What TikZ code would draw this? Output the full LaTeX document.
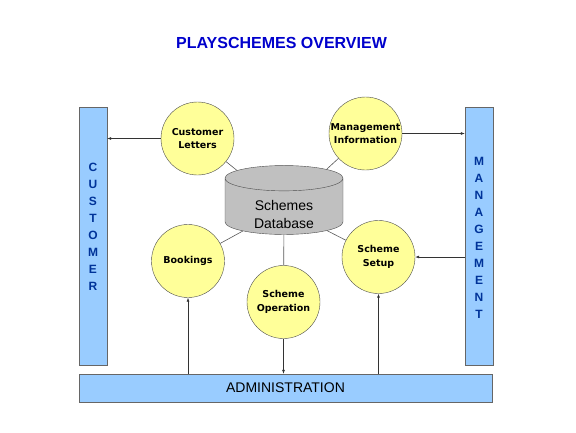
\documentclass[tikz,border=0pt]{standalone}
\usepackage{fontspec}
\setmainfont{Liberation Sans}
\newfontfamily\circfont{DejaVu Sans}
\usetikzlibrary{arrows.meta,positioning,shapes.geometric}
\definecolor{barblue}{RGB}{153,204,255}
\definecolor{bubble}{RGB}{255,255,153}
\definecolor{dbgrey}{RGB}{192,192,192}
\definecolor{titleblue}{RGB}{0,0,204}
\definecolor{letterblue}{RGB}{0,51,153}

\begin{document}
\begin{tikzpicture}[
  x=1pt, y=-1pt,
  bar/.style={draw=black!60, fill=barblue, inner sep=0pt},
  vbar/.style={bar, minimum width=28pt, minimum height=258pt},
  vtext/.style={align=center, inner sep=0pt, font=\bfseries\fontsize{12}{17}\selectfont, text=letterblue},
  proc/.style={circle, draw=black!70, fill=bubble, minimum size=73pt, inner sep=0pt, align=center, font=\circfont\bfseries\fontsize{9.5}{13.5}\selectfont},
  storetext/.style={align=center, inner sep=0pt, font=\fontsize{14}{18}\selectfont},
  store/.style={storetext, inner sep=.3333em, cylinder, shape border rotate=90, aspect=0.38, draw=black!70, fill=dbgrey, minimum width=118pt, minimum height=68pt},
  link/.style={draw=black!65, line width=0.6pt},
  arr/.style={draw=black!80, line width=0.6pt, -{Latex[length=4pt, width=3pt]}}
]
\useasboundingbox (0,0) rectangle (576,432);
\node[font=\bfseries\fontsize{16}{19}\selectfont, text=titleblue] (title) at (281.5,43) {PLAYSCHEMES OVERVIEW};
\node[vbar] (cust) at (93,236) {};
\node[vtext] (custtext) at ([yshift=9pt]cust.center) {C\\U\\S\\T\\O\\M\\E\\R};
\node[vbar] (mgmt) at (479,236) {};
\node[vtext] (mgmttext) at ([yshift=-2pt]mgmt.center) {M\\A\\N\\A\\G\\E\\M\\E\\N\\T};
\node[bar, minimum width=413pt, minimum height=28pt, font=\fontsize{14}{16}\selectfont] (admin) at (285.5,388) {ADMINISTRATION};
\node[store, anchor=shape center] (db) at (284,200) {\phantom{Schemes}\\\phantom{Database}};
\node[storetext] (dbtext) at (284,214) {Schemes\\Database};
\node[proc] (letters) at (197.5,138.5) {Customer\\Letters};
\node[proc] (mis) at (365.5,133.5) {Management\\Information};
\node[proc] (book) at (188,261) {Bookings};
\node[proc] (oper) at (283.5,302) {Scheme\\Operation};
\node[proc] (setup) at (378.5,257) {Scheme\\Setup};
\foreach \p in {letters,mis,book,setup} {\draw[link] (\p) -- (db);}
\draw[link] (db) -- (oper);
\draw[arr] (letters) -- (letters -| cust.east);
\draw[arr] (mis) -- (mis -| mgmt.west);
\draw[arr] (mgmt.west |- setup) -- (setup);
\draw[arr] (admin.north -| book) -- (book);
\draw[arr] (oper) -- (oper |- admin.north);
\draw[arr] (admin.north -| setup) -- (setup);
\end{tikzpicture}
\end{document}
